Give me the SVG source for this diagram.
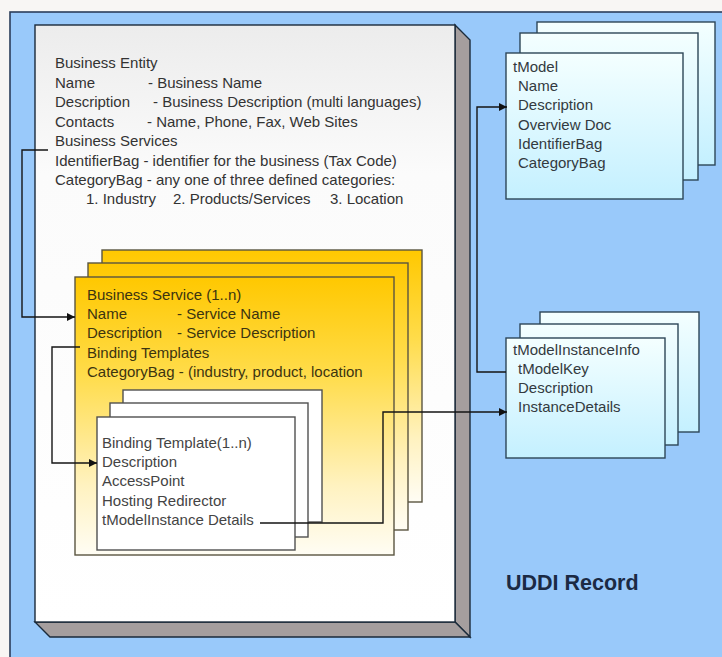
<svg xmlns="http://www.w3.org/2000/svg" width="722" height="657" viewBox="0 0 722 657">
<defs>
<linearGradient id="gWhite" x1="0" y1="0" x2="0" y2="1">
<stop offset="0" stop-color="#ececec"/><stop offset="0.25" stop-color="#fbfbfb"/><stop offset="1" stop-color="#ffffff"/>
</linearGradient>
<linearGradient id="gYellow" x1="0" y1="0" x2="0" y2="1">
<stop offset="0" stop-color="#ffc800"/><stop offset="0.35" stop-color="#ffdc4a"/><stop offset="0.75" stop-color="#fff2c0"/><stop offset="1" stop-color="#fffdf4"/>
</linearGradient>
<linearGradient id="gCyan" x1="0" y1="0" x2="0" y2="1">
<stop offset="0" stop-color="#f4ffff"/><stop offset="1" stop-color="#c4f0ff"/>
</linearGradient>
<marker id="arr" viewBox="0 0 10 10" refX="10" refY="5" markerWidth="9" markerHeight="8" markerUnits="userSpaceOnUse" orient="auto">
<path d="M0,0 L10,5 L0,10 z" fill="#111"/>
</marker>
</defs>
<style>
text{font-family:"Liberation Sans",Arial,sans-serif;font-size:15px;}
.be{fill:#333333;}
.bs{fill:#3c3410;}
.bt{fill:#444444;}
.tm{fill:#333a40;}
.edge{stroke:#1a2a3a;stroke-width:1.4;}
.ycard{fill:url(#gYellow);stroke:#5a5540;stroke-width:1.4;}
.wcard{fill:#ffffff;stroke:#505050;stroke-width:1.4;}
.ccard{fill:url(#gCyan);stroke:#2d4658;stroke-width:1.4;}
.conn{fill:none;stroke:#151515;stroke-width:1.4;marker-end:url(#arr);}
</style>
<rect x="0" y="0" width="722" height="657" fill="#f8f6f4"/>
<g id="uddi-record">
<rect x="10" y="12" width="720" height="660" fill="#99c9fa" stroke="#2b3d5a" stroke-width="1.6"/>
<text x="506" y="590" style="font-size:21.5px;font-weight:bold;fill:#1b2a44">UDDI Record</text>
</g>
<g id="business-entity">
<polygon class="edge" points="455,25 470,40 470,637 455,622" fill="#a59e9e"/>
<polygon class="edge" points="35,622 455,622 470,637 50,637" fill="#a59e9e"/>
<rect class="edge" x="35" y="25" width="420" height="597" fill="url(#gWhite)"/>
<text class="be" x="55" y="68">Business Entity</text>
<text class="be" y="88"><tspan x="55">Name</tspan><tspan x="148">- Business Name</tspan></text>
<text class="be" y="107"><tspan x="55">Description</tspan><tspan x="153">- Business Description (multi languages)</tspan></text>
<text class="be" y="127"><tspan x="55">Contacts</tspan><tspan x="147">- Name, Phone, Fax, Web Sites</tspan></text>
<text class="be" x="55" y="146">Business Services</text>
<text class="be" x="55" y="166">IdentifierBag - identifier for the business (Tax Code)</text>
<text class="be" x="55" y="185">CategoryBag - any one of three defined categories:</text>
<text class="be" y="204"><tspan x="86">1. Industry</tspan><tspan x="173">2. Products/Services</tspan><tspan x="330">3. Location</tspan></text>
</g>
<g id="business-service">
<rect class="ycard" x="102" y="250" width="320" height="252"/>
<rect class="ycard" x="88" y="263" width="320" height="267"/>
<rect class="ycard" x="75" y="277" width="319" height="278"/>
<text class="bs" x="87" y="300">Business Service (1..n)</text>
<text class="bs" y="319"><tspan x="87">Name</tspan><tspan x="177">- Service Name</tspan></text>
<text class="bs" y="338"><tspan x="87">Description</tspan><tspan x="177">- Service Description</tspan></text>
<text class="bs" x="87" y="358">Binding Templates</text>
<text class="bs" x="87" y="377">CategoryBag - (industry, product, location</text>
</g>
<g id="binding-template">
<rect class="wcard" x="123" y="390" width="199" height="132"/>
<rect class="wcard" x="110" y="403" width="198" height="134"/>
<rect class="wcard" x="97" y="417" width="198" height="133"/>
<text class="bt" x="102" y="448">Binding Template(1..n)</text>
<text class="bt" x="102" y="467">Description</text>
<text class="bt" x="102" y="486">AccessPoint</text>
<text class="bt" x="102" y="506">Hosting Redirector</text>
<text class="bt" x="102" y="525">tModelInstance Details</text>
</g>
<g id="tmodel">
<rect class="ccard" x="537" y="22" width="178" height="143"/>
<rect class="ccard" x="520" y="33" width="178" height="147"/>
<rect class="ccard" x="506" y="53" width="177" height="146"/>
<text class="tm" x="513" y="72">tModel</text>
<text class="tm" x="518" y="91">Name</text>
<text class="tm" x="518" y="110">Description</text>
<text class="tm" x="518" y="130">Overview Doc</text>
<text class="tm" x="518" y="149">IdentifierBag</text>
<text class="tm" x="518" y="168">CategoryBag</text>
</g>
<g id="tmodel-instance-info">
<rect class="ccard" x="540" y="312" width="159" height="120"/>
<rect class="ccard" x="520" y="324" width="158" height="121"/>
<rect class="ccard" x="506" y="338" width="159" height="120"/>
<text class="tm" x="513" y="355">tModelInstanceInfo</text>
<text class="tm" x="518" y="374">tModelKey</text>
<text class="tm" x="518" y="393">Description</text>
<text class="tm" x="518" y="412">InstanceDetails</text>
</g>
<g id="connectors">
<path class="conn" d="M48,150 H22 V317 H75"/>
<path class="conn" d="M80,347 H52 V463 H97"/>
<path class="conn" d="M260,523 H383 V412 H507"/>
<path class="conn" d="M506,372 H477 V107 H507"/>
</g>
</svg>
